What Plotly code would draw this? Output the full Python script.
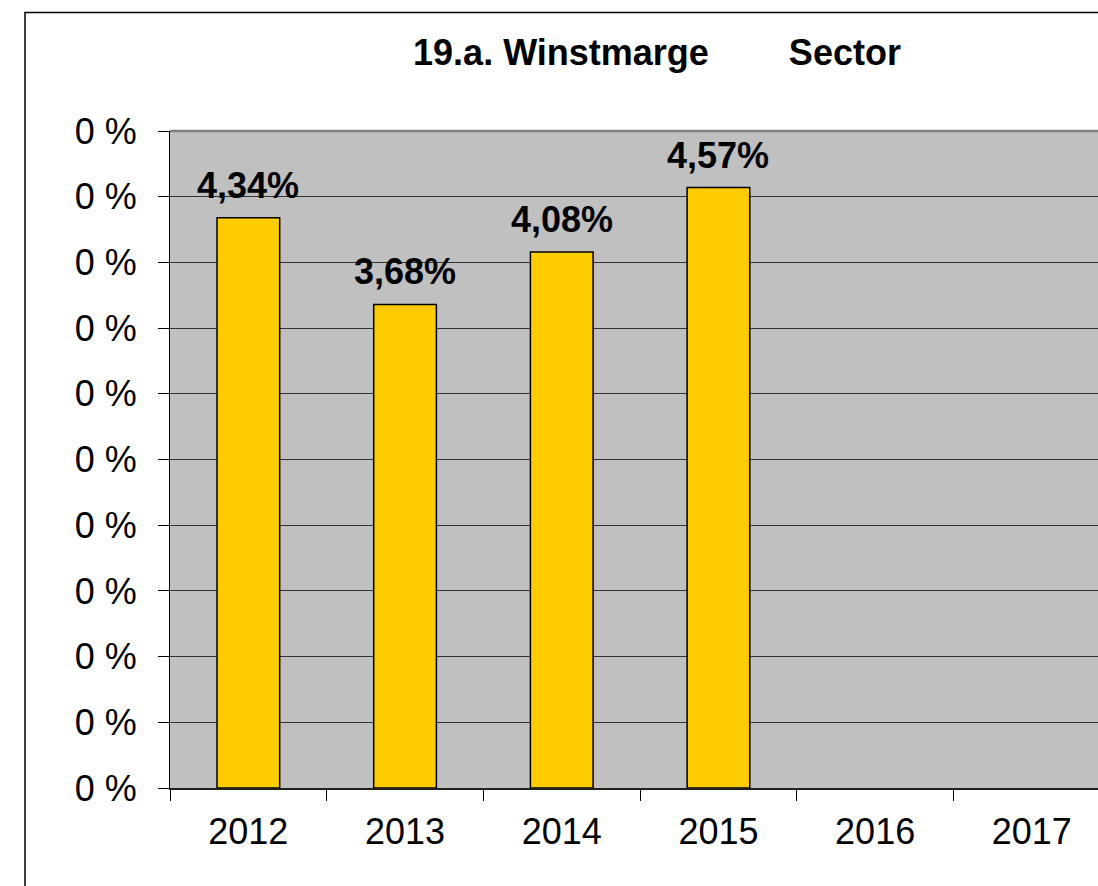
import plotly.graph_objects as go

years = ["2012", "2013", "2014", "2015", "2016", "2017"]
margins = [0.0434, 0.0368, 0.0408, 0.0457, None, None]
label_texts = ["4,34%", "3,68%", "4,08%", "4,57%"]
y_tick_values = [0.0, 0.005, 0.01, 0.015, 0.02, 0.025, 0.03, 0.035, 0.04, 0.045, 0.05]
y_tick_labels = ["0 %"] * len(y_tick_values)
title_text = "19.a. Winstmarge" + "\u00a0" * 8 + "Sector"

FONT = "Liberation Sans, Arial, sans-serif"

W, H = 1098, 886
L, T, B = 170, 131, 98
PH = H - T - B
PW = W - L
CAT_PX = 156.7

fig = go.Figure()
fig.add_trace(go.Bar(
    x=years, y=margins, width=0.4,
    marker=dict(color="#FFCC00", line=dict(color="black", width=1.5)),
    hoverinfo="skip",
))

for i, (val, txt) in enumerate(zip(margins, label_texts)):
    fig.add_annotation(x=i, y=val, text="<b>" + txt + "</b>", showarrow=False,
                       yanchor="bottom", xanchor="center", yshift=10,
                       font=dict(family=FONT, size=36, color="black"))

fig.update_layout(
    width=W, height=H,
    margin=dict(l=L, r=0, t=T, b=B, pad=0),
    paper_bgcolor="white", plot_bgcolor="#C0C0C0",
    showlegend=False,
    title=dict(text="<b>" + title_text + "</b>", x=657 / W, xref="container",
               xanchor="center", y=1 - 52 / H, yref="container", yanchor="middle",
               font=dict(family=FONT, size=36, color="black")),
    font=dict(family=FONT, size=36, color="black"),
)

fig.update_xaxes(
    type="category", categoryorder="array", categoryarray=years,
    range=[-0.5, -0.5 + PW / CAT_PX],
    showline=True, linecolor="#202020", linewidth=1.5,
    ticks="outside", ticklen=11, tickcolor="black", tickwidth=1,
    tickson="boundaries", showgrid=False,
    tickfont=dict(family=FONT, size=36, color="black"),
    ticklabelstandoff=11,
)
fig.update_yaxes(
    range=[0, 0.05], tickvals=y_tick_values, ticktext=y_tick_labels,
    showline=True, linecolor="black", linewidth=1,
    ticks="outside", ticklen=11, tickcolor="black", tickwidth=1,
    showgrid=True, gridcolor="#333333", gridwidth=1, zeroline=False,
    tickfont=dict(family=FONT, size=36, color="black"),
    ticklabelstandoff=14,
)

# top border of plot area (gray)
fig.add_shape(type="line", xref="paper", yref="paper", x0=0, x1=1.02, y0=1, y1=1,
              line=dict(color="#808080", width=2.5), layer="above")
# outer chart frame
fig.add_shape(type="rect", xref="paper", yref="paper",
              x0=(25 - L) / PW, x1=1.2, y0=-0.3, y1=(T + PH - 12.5) / PH,
              line=dict(color="black", width=1.5), fillcolor="rgba(0,0,0,0)", layer="above")

fig.write_html("out.html", config={"displayModeBar": False},
               post_script="document.body.style.margin='0';")
